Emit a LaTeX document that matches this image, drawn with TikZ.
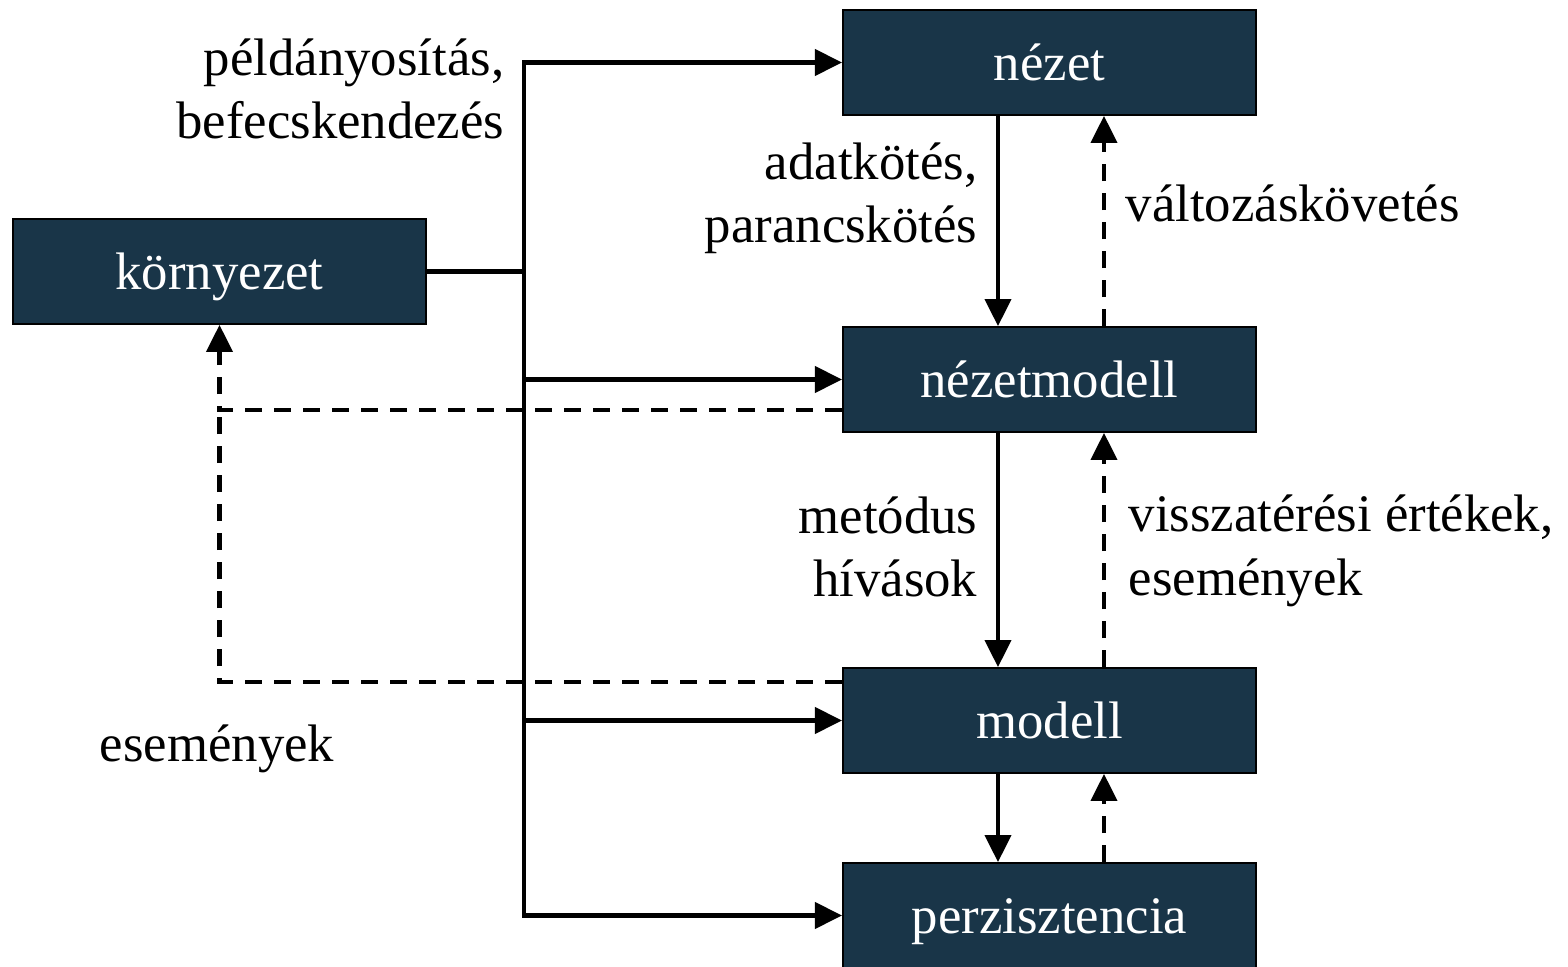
\documentclass[tikz,border=0pt]{standalone}
\usepackage{fontspec}
\setmainfont{Liberation Serif}
\usepackage{tikz}
\usetikzlibrary{calc}
\usetikzlibrary{arrows.meta}
\definecolor{boxblue}{RGB}{25,53,72}

\begin{document}
\begin{tikzpicture}[x=0.01cm,y=-0.01cm,font=\fontsize{15pt}{18pt}\selectfont,
		box/.style={draw=black,line width=0.5pt,fill=boxblue,text=white,minimum width=4.13cm,minimum height=1.05cm,inner sep=0pt,text height=1.12em,text depth=0.1em},
		lbl/.style={inner sep=0pt},
		wire/.style={line width=1.15pt},
		link/.style={wire,-{Triangle[length=0.27cm,width=0.26cm]}},
		back/.style={link,dash pattern=on 0.17cm off 0.12cm}]
		\useasboundingbox (0,0) rectangle (1568,967);
		\node[box] (nezet) at (1049.5,62.5) {nézet};
		\node[box] (kornyezet) at (219.5,271.5) {környezet};
		\node[box] (vm) at (1049.5,379.5) {nézetmodell};
		\node[box] (modell) at (1049.5,720.5) {modell};
		\node[box] (perz) at (1049.5,915.5) {perzisztencia};
		% oszlopok a fuggoleges nyilakhoz
		\coordinate (down) at (998,0);
		\coordinate (up) at (1104,0);
		\coordinate (bus) at (524,271.5);
		\draw[wire] (kornyezet.east) -- (bus);
		\foreach \n in {nezet,vm,modell,perz} { \draw[link] (bus) |- (\n.west);}
		\foreach \a / \b in {nezet/vm,vm/modell,modell/perz} { \draw[link] (\a.south -| down) -- (\b.north -| down); \draw[back] (\b.north -| up) -- (\a.south -| up);}
		% visszafele a kornyezet fele
		\coordinate (vmout) at ($(vm.west)+(0,30.5)$);
		\coordinate (modout) at ($(modell.west)+(0,-38.5)$);
		\coordinate (ret) at (kornyezet.south |- vmout);
		\draw[back] (vmout) -- (ret) -- (kornyezet.south);
		\draw[wire,dash pattern=on 0.17cm off 0.12cm] (modout) -| (ret);
		\node[lbl,anchor=east,align=right] (peld) at (505,89) {példányosítás,\\befecskendezés};
		\node[lbl,anchor=east,align=right] (adat) at (978,198) {adatkötés,\\parancskötés};
		\node[lbl,anchor=west] (valt) at (1125,203) {változáskövetés};
		\node[lbl,anchor=east,align=right] (metod) at (978,547) {metódus\\hívások};
		\node[lbl,anchor=west,align=left] (vissza) at (1128,551) {visszatérési értékek,\\események};
		\node[lbl] (esem) at (217,749) {események};
	\end{tikzpicture}
\end{document}
